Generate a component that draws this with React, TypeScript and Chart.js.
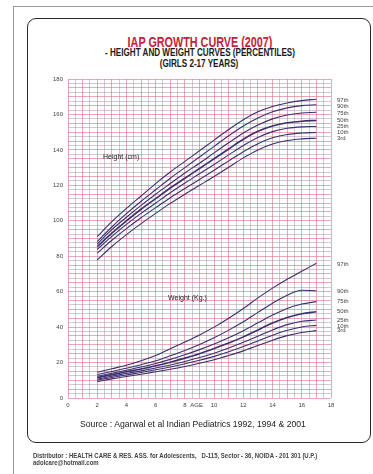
import { useEffect, useRef } from 'react';
import { Chart, registerables } from 'chart.js';
Chart.register(...registerables);

const ages = [2, 3, 4, 5, 6, 7, 8, 9, 10, 11, 12, 13, 14, 15, 16, 17];
const percentiles = ['97th', '90th', '75th', '50th', '25th', '10th', '3rd'];

const height97 = [91, 99.5, 107, 114, 121, 127.5, 133.5, 139.5, 145.5, 151.5, 157, 161.5, 164.5, 166.5, 167.8, 168.6];
const height90 = [88.2, 96.5, 104, 111, 117.5, 124, 130, 136, 142, 148, 153.5, 158, 161.5, 163.7, 165, 165.5];
const height75 = [86.9, 95, 102, 108.7, 115, 121, 127, 132.5, 138.3, 144, 149.5, 154, 157.5, 159.7, 160.8, 161.2];
const height50 = [85.4, 93, 100, 106.5, 112.5, 118.5, 124, 129.5, 135, 140.5, 146, 150.5, 153.5, 155.3, 156.2, 156.6];
const height25 = [83.9, 91.2, 98, 104.2, 110, 115.8, 121.3, 126.5, 131.8, 137.2, 142.5, 147, 150.3, 152.2, 153, 153.2];
const height10 = [81.7, 89, 95.6, 101.7, 107.4, 113, 118.2, 123.3, 128.5, 133.8, 139, 143.5, 146.8, 148.7, 149.5, 149.8];
const height3 = [77.9, 85.5, 92.2, 98.4, 104.2, 109.8, 115, 120, 125, 130.2, 135.5, 140, 143.3, 145.3, 146.2, 146.6];

const weight97 = [14.5, 16.5, 18.5, 21, 24, 27.8, 31.6, 35.6, 40, 45, 50.5, 56.5, 62, 67, 71.5, 76];
const weight90 = [13.3, 15, 16.8, 18.8, 21, 23.8, 26.8, 30.2, 34, 38.3, 43, 48.3, 53.5, 58, 60.8, 60.5];
const weight75 = [12.3, 14, 15.7, 17.5, 19.5, 21.8, 24.4, 27.3, 30.5, 34, 38, 42.4, 46.8, 50.5, 53, 54.4];
const weight50 = [11.5, 13.2, 14.8, 16.4, 18.2, 20.2, 22.5, 25, 27.9, 31, 34.5, 38.4, 42.3, 45.4, 47.5, 48.7];
const weight25 = [10.6, 12.3, 13.8, 15.3, 16.9, 18.6, 20.6, 22.8, 25.3, 28.2, 31.4, 34.9, 38.4, 41.4, 43.3, 44];
const weight10 = [10, 11.6, 13, 14.4, 15.9, 17.5, 19.3, 21.3, 23.5, 26.1, 29, 32.2, 35.4, 38.2, 40.1, 41];
const weight3 = [9.2, 10.8, 12.1, 13.4, 14.8, 16.2, 17.8, 19.6, 21.6, 24, 26.6, 29.6, 32.6, 35.2, 37, 38];

const heightSeries = [height97, height90, height75, height50, height25, height10, height3];
const weightSeries = [weight97, weight90, weight75, weight50, weight25, weight10, weight3];

// label anchor values for percentile names at right of the chart
const heightLabelPos = [168.2, 164.8, 160.8, 156.9, 153.5, 150.1, 146.7];
const weightLabelPos = [75.6, 60.4, 54.4, 49.1, 44, 40.6, 38.4];

const xTickLabels = [0, 2, 4, 6, 8, 10, 12, 14, 16, 18];
const yTickLabels = [0, 20, 40, 60, 80, 100, 120, 140, 160, 180];

const W = 373;
const H = 474;
const SANS = '"Liberation Sans", Arial, sans-serif';

const textPlugin = {
  id: 'chartTexts',
  afterDatasetsDraw(chart: any) {
    const { ctx, scales } = chart;
    const x = scales.x;
    const y = scales.y;
    ctx.save();
    ctx.fillStyle = '#444';
    ctx.font = `6px ${SANS}`;
    ctx.textBaseline = 'middle';
    ctx.textAlign = 'left';
    const lx = x.getPixelForValue(18) + 6;
    percentiles.forEach((p, i) => {
      ctx.fillText(p, lx, y.getPixelForValue(heightLabelPos[i]));
      ctx.fillText(p, lx, y.getPixelForValue(weightLabelPos[i]));
    });
    ctx.font = `7px ${SANS}`;
    ctx.fillStyle = '#222';
    ctx.fillText('Height (cm)', x.getPixelForValue(2.4), y.getPixelForValue(136));
    ctx.fillText('Weight (Kg.)', x.getPixelForValue(6.85), y.getPixelForValue(56.4));
    ctx.font = `6px ${SANS}`;
    ctx.fillStyle = '#444';
    ctx.textAlign = 'center';
    ctx.textBaseline = 'top';
    ctx.fillText('AGE', x.getPixelForValue(8.8), y.getPixelForValue(0) + 4);
    ctx.restore();
  },
};

export default function App() {
  const ref = useRef<HTMLCanvasElement>(null);
  useEffect(() => {
    if (!ref.current) return;
    const mk = (arr: number[]) => ages.map((a, i) => ({ x: a, y: arr[i] }));
    const datasets: any[] = [];
    const addSeries = (prefix: string, list: number[][]) =>
      list.forEach((s, i) => {
        datasets.push({
          label: prefix + ' ' + percentiles[i],
          data: mk(s),
          borderColor: '#3b2f6e',
          borderWidth: i === 3 ? 1.6 : 1.1,
          pointRadius: 0,
          cubicInterpolationMode: 'monotone',
          fill: false,
        });
      });
    addSeries('Height', heightSeries);
    addSeries('Weight', weightSeries);
    const RED = 'rgba(214,110,135,0.75)';
    const GRAY = 'rgba(140,125,140,0.5)';
    const gridX = (c: any) => {
      const v = c.tick ? c.tick.value : 0;
      return Number.isInteger(v) ? RED : GRAY;
    };
    const gridY = (c: any) => {
      const v = c.tick ? c.tick.value : 0;
      return v % 5 === 0 ? RED : GRAY;
    };
    const chart = new Chart(ref.current, {
      type: 'line',
      data: { datasets },
      plugins: [textPlugin],
      options: {
        animation: false,
        responsive: false,
        maintainAspectRatio: false,
        layout: { padding: { left: 0, top: 79, right: 42, bottom: 0 } },
        plugins: { legend: { display: false }, tooltip: { enabled: false }, title: { display: false } },
        scales: {
          x: {
            type: 'linear',
            min: 0,
            max: 18,
            afterFit: (s: any) => {
              s.height = 76;
            },
            border: { display: false },
            grid: { color: gridX, lineWidth: 0.8, drawTicks: false },
            ticks: {
              stepSize: 0.5,
              autoSkip: false,
              maxTicksLimit: 100,
              maxRotation: 0,
              padding: 4,
              color: '#444',
              font: { size: 6, family: SANS },
              callback: (v: any) => (xTickLabels.includes(Number(v)) ? String(v) : ''),
            },
          },
          y: {
            type: 'linear',
            min: 0,
            max: 180,
            afterFit: (s: any) => {
              s.width = 68;
            },
            border: { display: false },
            grid: { color: gridY, lineWidth: 0.8, drawTicks: false },
            ticks: {
              stepSize: 2.5,
              autoSkip: false,
              maxTicksLimit: 100,
              padding: 5,
              color: '#444',
              font: { size: 6, family: SANS },
              callback: (v: any) => (yTickLabels.includes(Number(v)) ? String(v) : ''),
            },
          },
        },
      },
    } as any);
    return () => chart.destroy();
  }, []);

  const abs = (o: any) => ({ position: 'absolute', ...o }) as any;
  const centered = (cx: number, top: number, font: string, color: string, sx: number) =>
    abs({
      left: cx - 200,
      top,
      width: 400,
      textAlign: 'center',
      font,
      color,
      whiteSpace: 'nowrap',
      transform: `scaleX(${sx})`,
      transformOrigin: '50% 50%',
    });
  return (
    <div style={{ position: 'fixed', left: 0, top: 0, width: W, height: H, background: '#fff', overflow: 'hidden' }}>
      <div style={abs({ left: 13, top: 6, width: W, height: H, borderLeft: '1px solid #9a9a9a', borderTop: '1px solid #9a9a9a' })} />
      <div style={abs({ left: 27, top: 18, width: 344, height: 425, border: '1.6px solid #2a2a2a', borderRadius: 9, boxSizing: 'border-box' })} />
      <div style={centered(200, 34, `bold 15px/15px ${SANS}`, '#c4243a', 0.72)}>IAP GROWTH CURVE (2007)</div>
      <div style={centered(200, 48, `bold 10px/10px ${SANS}`, '#1a1a1a', 0.81)}>- HEIGHT AND WEIGHT CURVES (PERCENTILES)</div>
      <div style={centered(199, 59, `bold 10px/10px ${SANS}`, '#1a1a1a', 0.81)}>(GIRLS 2-17 YEARS)</div>
      <canvas ref={ref} width={W} height={H} style={abs({ left: 0, top: 0, width: W, height: H })} />
      <div style={centered(193, 419, `9.5px/10px ${SANS}`, '#1a1a1a', 0.91)}>
        Source : Agarwal et al Indian Pediatrics 1992, 1994 &amp; 2001
      </div>
      <div style={abs({ left: 33, top: 452, font: `bold 6.5px/7px ${SANS}`, color: '#444', whiteSpace: 'pre', transform: 'scaleX(0.92)', transformOrigin: '0 50%' })}>
        {'Distributor : HEALTH CARE & RES. ASS. for Adolescents,   D-115, Sector - 36, NOIDA - 201 301 (U.P.)'}
      </div>
      <div style={abs({ left: 33, top: 459, font: `bold 6.5px/7px ${SANS}`, color: '#444', whiteSpace: 'pre', transform: 'scaleX(0.92)', transformOrigin: '0 50%' })}>
        adolcare@hotmail.com
      </div>
    </div>
  );
}
